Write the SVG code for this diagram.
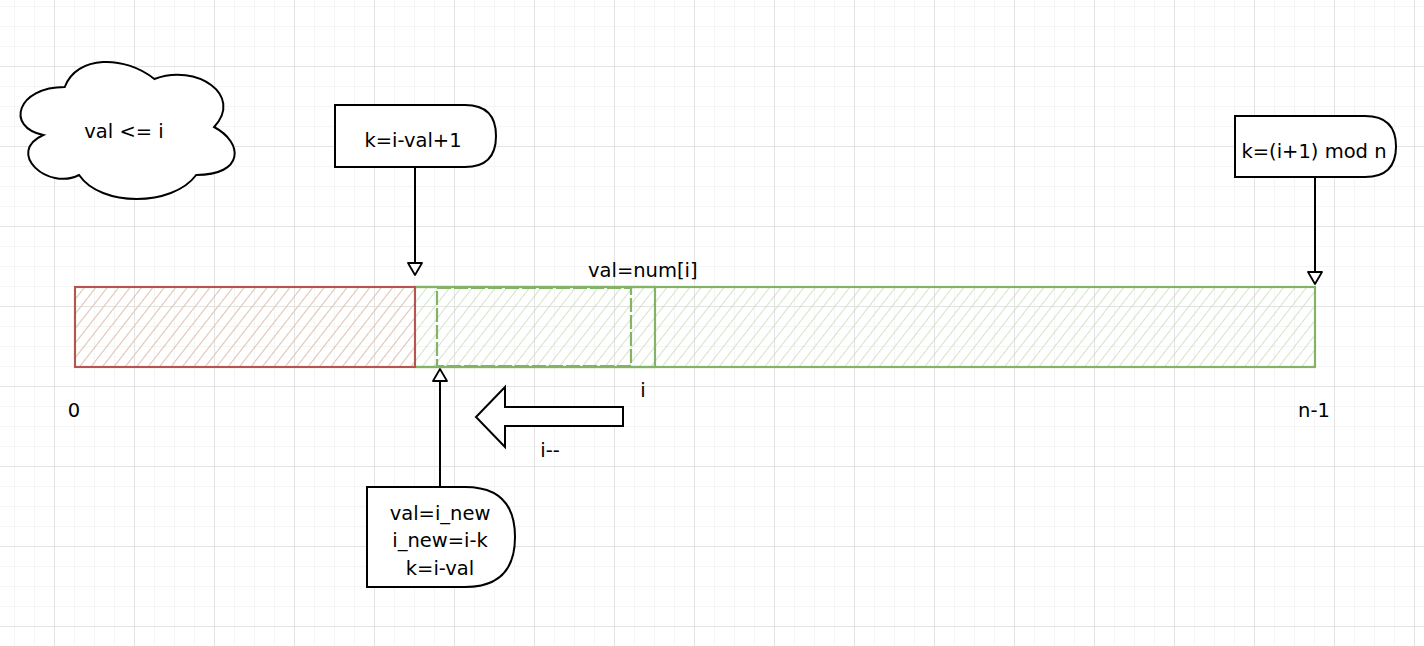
<svg xmlns="http://www.w3.org/2000/svg" width="1424" height="646" viewBox="0 0 1424 646">
  <defs>
    <pattern id="gridMinor" x="14" y="6" width="20" height="20" patternUnits="userSpaceOnUse">
      <path d="M0,0 H20 M0,0 V20" fill="none" stroke="#ececec" stroke-width="1"/>
    </pattern>
    <pattern id="gridMajor" x="54" y="66" width="80" height="80" patternUnits="userSpaceOnUse">
      <path d="M0,0 H80 M0,0 V80" fill="none" stroke="#d4d4d4" stroke-width="1"/>
    </pattern>
    <pattern id="hatchGreen" width="9" height="9" patternUnits="userSpaceOnUse" patternTransform="rotate(38)">
      <line x1="0" y1="0" x2="0" y2="9" stroke="#c3dcb6" stroke-width="1.5"/>
    </pattern>
    <pattern id="hatchRed" width="9" height="9" patternUnits="userSpaceOnUse" patternTransform="rotate(38)">
      <line x1="0" y1="0" x2="0" y2="9" stroke="#efbdb7" stroke-width="1.5"/>
    </pattern>
    <marker id="openTri" viewBox="0 0 15 16" refX="13" refY="8" markerWidth="15" markerHeight="16" markerUnits="userSpaceOnUse" orient="auto">
      <path d="M1,1 L13,8 L1,15 Z" fill="#fff" stroke="#000" stroke-width="1.8" stroke-linejoin="round"/>
    </marker>
  </defs>
  <style>
    text { font-family: "DejaVu Sans", "Liberation Sans", sans-serif; font-size: 19.5px; fill: #000; }
    .lbl { text-anchor: middle; }
    .shape { fill: #fff; stroke: #000; stroke-width: 2; }
    .conn { fill: none; stroke: #000; stroke-width: 2; }
    .green { stroke: #82b366; stroke-width: 2.2; }
  </style>

  <rect x="0" y="0" width="1424" height="646" fill="#fff"/>
  <rect x="0" y="0" width="1424" height="646" fill="url(#gridMinor)"/>
  <rect x="0" y="0" width="1424" height="646" fill="url(#gridMajor)"/>

  <g id="array-full">
    <rect x="75" y="287" width="1240" height="80" fill="url(#hatchGreen)" class="green"/>
  </g>
  <g id="array-window">
    <rect x="415" y="287" width="240" height="80" fill="none" class="green"/>
  </g>
  <g id="array-inner">
    <rect x="437" y="288" width="194" height="78" fill="none" class="green" stroke-dasharray="14 3"/>
  </g>
  <g id="array-red">
    <rect x="75" y="287" width="340" height="80" fill="url(#hatchRed)" stroke="#b85450" stroke-width="2"/>
  </g>

  <g id="cloud">
    <path class="shape" d="M64.75,87 C16.95,87 5,127 43.24,135 C5,152.6 48.02,191 79.09,175 C100.6,207 172.3,207 196.2,175 C244,175 244,143 214.1,127 C244,95 196.2,63 154.4,79 C124.5,55 76.7,55 64.75,87 Z"/>
    <text class="lbl" x="124" y="138">val &lt;= i</text>
  </g>

  <g id="box-k1">
    <path class="shape" d="M335,105 H465 Q496,105 496,136 Q496,167 465,167 H335 Z"/>
    <text class="lbl" x="413" y="147">k=i-val+1</text>
  </g>

  <g id="box-kmod">
    <path class="shape" d="M1235,116 H1365 Q1396,116 1396,146.5 Q1396,177 1365,177 H1235 Z"/>
    <text class="lbl" x="1314" y="158">k=(i+1) mod n</text>
  </g>

  <g id="box-val">
    <path class="shape" d="M367,487 H465 Q515,487 515,537 Q515,587 465,587 H367 Z"/>
    <text class="lbl" x="440" y="520">val=i_new</text>
    <text class="lbl" x="440" y="547">i_new=i-k</text>
    <text class="lbl" x="440" y="575">k=i-val</text>
  </g>

  <g id="big-arrow">
    <path class="shape" d="M623,407 H505 V387 L476,417 L505,447 V426 H623 Z" stroke-linejoin="miter"/>
  </g>

  <g id="connectors">
    <line class="conn" x1="415" y1="167" x2="415" y2="275" marker-end="url(#openTri)"/>
    <line class="conn" x1="1315" y1="177" x2="1315" y2="284" marker-end="url(#openTri)"/>
    <line class="conn" x1="440" y1="487" x2="440" y2="369" marker-end="url(#openTri)"/>
  </g>

  <g id="labels">
    <text x="588" y="277">val=num[i]</text>
    <text class="lbl" x="74" y="417">0</text>
    <text class="lbl" x="643" y="397">i</text>
    <text class="lbl" x="1314" y="417">n-1</text>
    <text class="lbl" x="550" y="457">i--</text>
  </g>
</svg>
